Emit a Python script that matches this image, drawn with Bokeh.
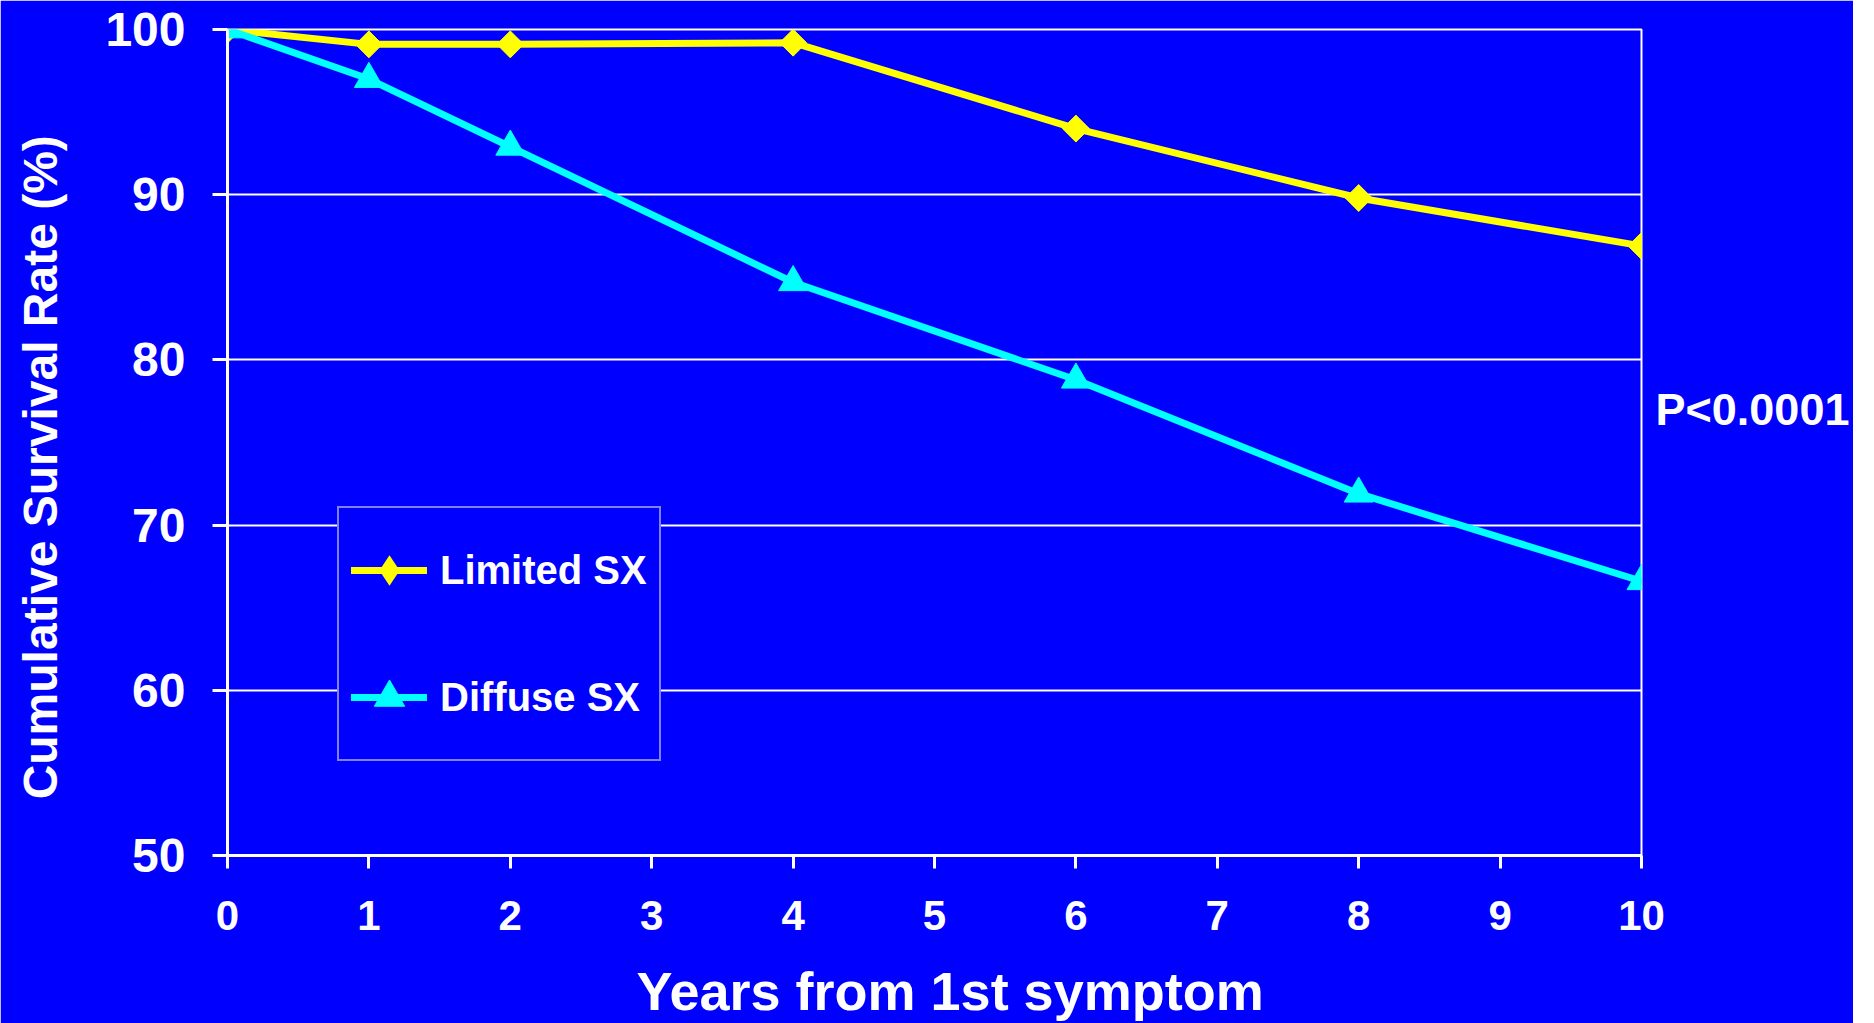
from math import pi

from bokeh.plotting import figure
from bokeh.models import (Range1d, FixedTicker, Legend, LegendItem, LinearAxis)
from bokeh.embed import file_html
from bokeh.resources import INLINE

# Cumulative survival (%) by years from first symptom
years = [0, 1, 2, 4, 6, 8, 10]
limited_sx = [100, 99.1, 99.1, 99.2, 94.0, 89.8, 86.9]
diffuse_sx = [100, 97.0, 92.9, 84.7, 78.8, 71.9, 66.6]

x_ticks = list(range(0, 11))
y_ticks = [50, 60, 70, 80, 90, 100]

x_title = "Years from 1st symptom"
y_title = "Cumulative Survival Rate (%)"
p_value_text = "P<0.0001"

# where the titles / note sit along their axes
x_title_at = 5.11
y_title_at = 73.5
p_value_at = 77

BLUE = "#0000FF"
YELLOW = "#FFFF00"
CYAN = "#00FFFF"
WHITE = "#FFFFFF"
FONT = "Liberation Sans"

p = figure(
    width=1853, height=1023,
    x_range=Range1d(0, 10), y_range=Range1d(50, 100),
    output_backend="svg", toolbar_location=None,
    min_border_left=227, min_border_right=212,
    min_border_top=29, min_border_bottom=168,
    background_fill_color=BLUE, border_fill_color=BLUE,
    outline_line_color=WHITE, outline_line_width=2,
)

p.xgrid.visible = False
p.ygrid.ticker = FixedTicker(ticks=y_ticks)
p.ygrid.grid_line_color = WHITE
p.ygrid.grid_line_width = 2

for ax in (p.xaxis[0], p.yaxis[0]):
    ax.axis_line_color = WHITE
    ax.axis_line_width = 3
    ax.major_tick_line_color = WHITE
    ax.major_tick_line_width = 3
    ax.major_tick_in = 0
    ax.minor_tick_line_color = None
    ax.major_label_text_color = WHITE
    ax.major_label_text_font = FONT
    ax.major_label_text_font_style = "bold"

p.xaxis.ticker = FixedTicker(ticks=x_ticks)
p.xaxis.major_tick_out = 13
p.xaxis.major_label_text_font_size = "42px"
p.xaxis.major_label_standoff = 32

p.yaxis.ticker = FixedTicker(ticks=y_ticks)
p.yaxis.major_tick_out = 15
p.yaxis.major_label_text_font_size = "48px"
p.yaxis.major_label_standoff = 27


def text_axis(at, text, size, standoff, orientation="horizontal"):
    """A bare axis that only carries one piece of text at a chosen spot."""
    return LinearAxis(
        ticker=FixedTicker(ticks=[at]),
        major_label_overrides={at: text},
        major_label_orientation=orientation,
        axis_line_color=None, major_tick_line_color=None, minor_tick_line_color=None,
        major_tick_out=0, major_tick_in=0, major_label_standoff=standoff,
        major_label_text_color=WHITE, major_label_text_font=FONT,
        major_label_text_font_style="bold", major_label_text_font_size=size,
    )


p.add_layout(text_axis(x_title_at, x_title, "54px", 28), "below")
p.add_layout(text_axis(y_title_at, y_title, "48px", 35, "parallel"), "left")
p.add_layout(text_axis(p_value_at, p_value_text, "45px", 14), "right")

line_lim = p.line(years, limited_sx, line_color=YELLOW, line_width=7, line_cap="round")
key_lim = p.scatter(years, limited_sx, marker="diamond", size=27,
                    fill_color=YELLOW, line_color=None)
pts_lim = p.scatter(years, limited_sx, marker="square", angle=pi / 4, size=19,
                    fill_color=YELLOW, line_color=YELLOW)
line_dif = p.line(years, diffuse_sx, line_color=CYAN, line_width=7, line_cap="round")
pts_dif = p.scatter(years, diffuse_sx, marker="triangle", size=29,
                    fill_color=CYAN, line_color=CYAN)

legend = Legend(
    items=[
        LegendItem(label="Limited SX", renderers=[line_lim, key_lim]),
        LegendItem(label="Diffuse SX", renderers=[line_dif, pts_dif]),
    ],
    location=(110, 94), margin=0, padding=12, spacing=27,
    glyph_width=76, glyph_height=100, label_height=100, label_standoff=13,
    border_line_color=WHITE, border_line_width=2,
    background_fill_color=BLUE, background_fill_alpha=1.0,
    label_text_color=WHITE, label_text_font=FONT, label_text_font_style="bold",
    label_text_font_size="40px",
)
p.add_layout(legend)

open("out.html", "w").write(file_html(p, INLINE))
